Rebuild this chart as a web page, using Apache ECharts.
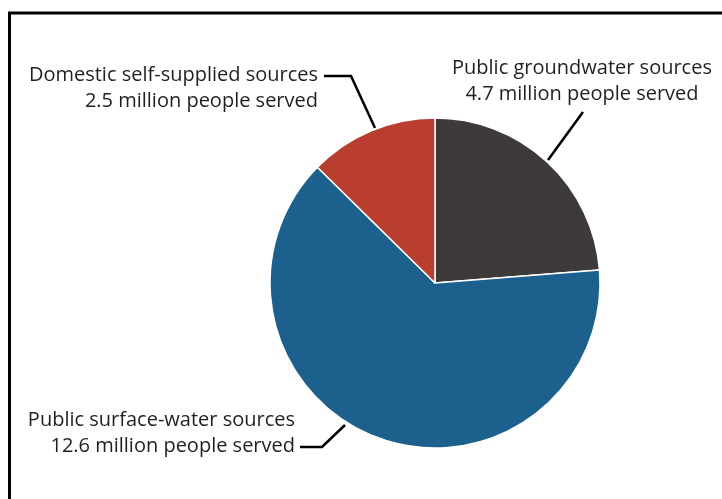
<!DOCTYPE html>
<html>
<head>
<meta charset="utf-8">
<script src="https://cdn.jsdelivr.net/npm/echarts@6/dist/echarts.min.js"></script>
<style>
html,body{margin:0;padding:0;background:#fff;}
#chart{width:722px;height:499px;}
</style>
</head>
<body>
<div id="chart"></div>
<script>
var categories = ['Public groundwater sources', 'Public surface-water sources', 'Domestic self-supplied sources'];
var peopleServed = [4.7, 12.6, 2.5];
var sliceColors = ['#3e3a39', '#1c618d', '#b93e2d'];

var chart = echarts.init(document.getElementById('chart'), null, {renderer: 'canvas'});

var labelSpots = {
  'Public groundwater sources': {x: 582, y: 81, align: 'center', pts: [[548, 160], [583, 112], [583, 112]]},
  'Public surface-water sources': {x: 295, y: 433, align: 'right', pts: [[345, 425], [322, 447], [300, 447]]},
  'Domestic self-supplied sources': {x: 318, y: 88, align: 'right', pts: [[375, 128], [351, 76], [324, 76]]}
};

var data = categories.map(function (c, i) {
  return {name: c, value: peopleServed[i], itemStyle: {color: sliceColors[i]}};
});

chart.setOption({
  backgroundColor: '#fff',
  animation: false,
  graphic: [
    {type: 'line', shape: {x1: 8, y1: 13, x2: 730, y2: 13}, style: {stroke: '#000', lineWidth: 3}},
    {type: 'line', shape: {x1: 9.5, y1: 12, x2: 9.5, y2: 510}, style: {stroke: '#000', lineWidth: 3}}
  ],
  series: [{
    type: 'pie',
    center: [435, 283],
    radius: 165,
    startAngle: 90,
    clockwise: true,
    data: data,
    itemStyle: {borderColor: '#fff', borderWidth: 1.5},
    label: {
      show: true,
      formatter: function (p) { return p.name + '\n' + p.value + ' million people served'; },
      fontFamily: 'Open Sans',
      fontSize: 20,
      lineHeight: 26,
      color: '#231f20',
      overflow: 'none'
    },
    labelLine: {show: true, lineStyle: {color: '#000', width: 2.5}, length: 10, length2: 10},
    labelLayout: function (params) {
      var s = labelSpots[categories[params.dataIndex]];
      return {x: s.x, y: s.y, align: s.align, verticalAlign: 'middle', labelLinePoints: s.pts};
    },
    emphasis: {disabled: true}
  }]
});
</script>
</body>
</html>
